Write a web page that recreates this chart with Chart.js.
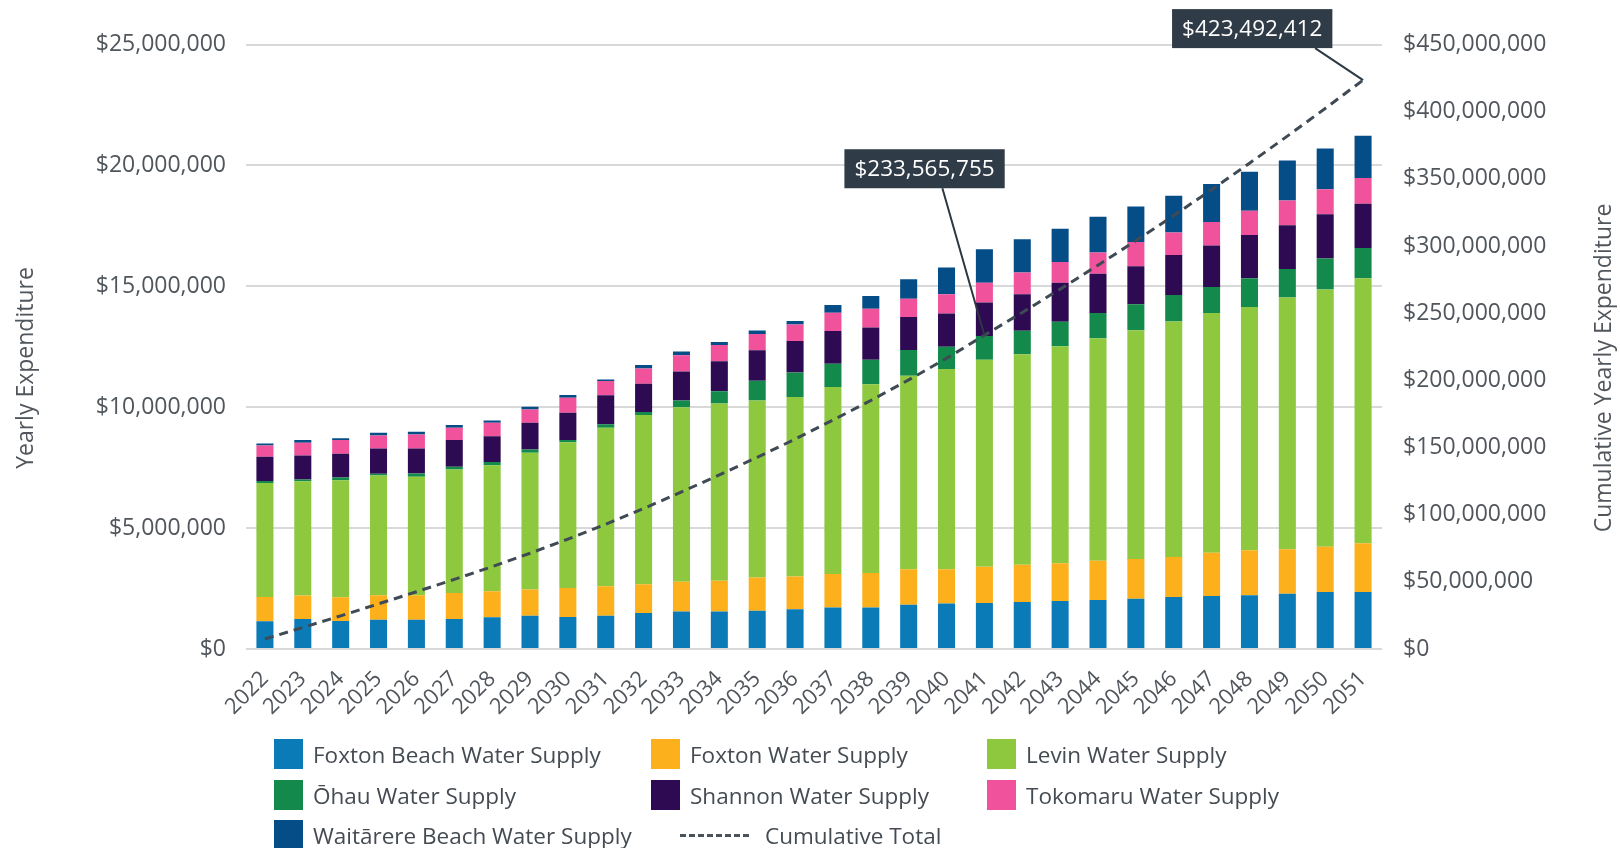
<!DOCTYPE html>
<html>
<head>
<meta charset="utf-8">
<script src="https://cdn.jsdelivr.net/npm/chart.js@4.4.1/dist/chart.umd.min.js"></script>
<style>
  html, body { margin: 0; padding: 0; background: #fff; }
  #wrap { position: relative; width: 1620px; height: 848px; font-family: 'Open Sans', sans-serif; }
  #chart { position: absolute; left: 0; top: 0; }
  .lg { position: absolute; display: flex; align-items: center; font-size: 22.5px; color: #454b52; white-space: nowrap; }
  .lg .sw { width: 29px; height: 30px; margin-right: 10px; }
  .lg .dash { width: 69px; height: 0; border-top: 3px dashed #4a525a; margin-right: 16px; margin-left: 29px; }
</style>
</head>
<body>
<div id="wrap">
  <canvas id="chart" width="1620" height="848"></canvas>
  <div id="legend"></div>
</div>
<script>
// categories
const years = ['2022','2023','2024','2025','2026','2027','2028','2029','2030','2031',
  '2032','2033','2034','2035','2036','2037','2038','2039','2040','2041',
  '2042','2043','2044','2045','2046','2047','2048','2049','2050','2051'];

// yearly expenditure per supply, $ millions
const foxtonBeach = [1.15,1.24,1.16,1.21,1.21,1.24,1.31,1.38,1.32,1.38,1.49,1.55,1.55,1.58,1.64,1.72,1.72,1.83,1.88,1.90,1.94,1.98,2.03,2.08,2.15,2.19,2.22,2.29,2.36,2.36];
const foxton      = [1.00,0.97,0.98,1.01,1.01,1.08,1.08,1.08,1.20,1.21,1.19,1.23,1.27,1.38,1.36,1.38,1.42,1.47,1.42,1.50,1.54,1.57,1.62,1.64,1.65,1.79,1.86,1.84,1.87,2.01];
const levin       = [4.72,4.73,4.84,4.96,4.90,5.10,5.21,5.66,6.03,6.56,7.00,7.22,7.33,7.32,7.42,7.74,7.81,8.00,8.28,8.56,8.71,8.97,9.20,9.46,9.74,9.92,10.06,10.41,10.64,10.96];
const ohau        = [0.08,0.07,0.11,0.07,0.14,0.12,0.13,0.13,0.09,0.14,0.12,0.28,0.51,0.81,1.01,0.96,1.01,1.07,0.92,0.98,0.97,1.01,1.05,1.08,1.10,1.07,1.19,1.18,1.28,1.25];
const shannon     = [1.00,0.99,0.98,1.04,1.03,1.10,1.07,1.11,1.13,1.20,1.17,1.20,1.24,1.27,1.31,1.35,1.34,1.36,1.38,1.39,1.51,1.62,1.62,1.57,1.65,1.72,1.79,1.80,1.83,1.83];
const tokomaru    = [0.47,0.53,0.57,0.54,0.58,0.51,0.56,0.55,0.62,0.59,0.63,0.67,0.67,0.67,0.68,0.76,0.77,0.75,0.79,0.82,0.90,0.85,0.88,1.00,0.93,0.97,1.00,1.03,1.03,1.07];
const waitarere   = [0.08,0.11,0.08,0.11,0.11,0.11,0.09,0.11,0.11,0.07,0.15,0.15,0.13,0.14,0.14,0.32,0.53,0.81,1.11,1.38,1.38,1.38,1.48,1.47,1.53,1.57,1.62,1.65,1.69,1.75];

// cumulative total, $
const cumulative = [7500000,16000000,24700000,33600000,42600000,51800000,61300000,71300000,81800000,92900000,
  104600000,116900000,129600000,142700000,156200000,170400000,185000000,200300000,216400000,233565755,
  250500000,267900000,285700000,304000000,322700000,341900000,361600000,381800000,402400000,423492412];

// tick values
const leftTicks = [0, 5000000, 10000000, 15000000, 20000000, 25000000];
const rightTicks = [0,50000000,100000000,150000000,200000000,250000000,300000000,350000000,400000000,450000000];

// points that get a callout
const calloutIdx = [19, 29];

const M = v => v.map(x => Math.round(x * 1000000));
const money = v => '$' + Number(v).toLocaleString('en-US');

const series = [
  { label: 'Foxton Beach Water Supply', data: M(foxtonBeach), color: '#0b7bb8' },
  { label: 'Foxton Water Supply', data: M(foxton), color: '#fbb01c' },
  { label: 'Levin Water Supply', data: M(levin), color: '#8dc83f' },
  { label: '\u014Chau Water Supply', data: M(ohau), color: '#138a4b' },
  { label: 'Shannon Water Supply', data: M(shannon), color: '#2e0a52' },
  { label: 'Tokomaru Water Supply', data: M(tokomaru), color: '#f0529c' },
  { label: 'Wait\u0101rere Beach Water Supply', data: M(waitarere), color: '#054d87' }
];

const datasets = series.map(s => ({
  type: 'bar',
  label: s.label,
  data: s.data,
  backgroundColor: s.color,
  borderWidth: 0,
  stack: 'yearly',
  yAxisID: 'y',
  order: 1,
  barPercentage: 0.45,
  categoryPercentage: 1
}));

datasets.push({
  type: 'line',
  label: 'Cumulative Total',
  data: cumulative,
  yAxisID: 'y1',
  borderColor: '#3f4a54',
  borderWidth: 3,
  borderDash: [9, 6],
  pointRadius: 0,
  fill: false,
  tension: 0,
  order: 0
});

const tickColor = '#50565c';

// axis titles, both read bottom-to-top
const axisTitles = {
  id: 'axisTitles',
  afterDraw(chart) {
    const ctx = chart.ctx;
    const titles = [
      { text: 'Yearly Expenditure', x: 26 },
      { text: 'Cumulative Yearly Expenditure', x: 1604 }
    ];
    ctx.save();
    ctx.font = '23px "Open Sans"';
    ctx.fillStyle = tickColor;
    ctx.textAlign = 'center';
    ctx.textBaseline = 'middle';
    titles.forEach(t => {
      ctx.save();
      ctx.translate(t.x, 368);
      ctx.rotate(-Math.PI / 2);
      ctx.fillText(t.text, 0, 0);
      ctx.restore();
    });
    ctx.restore();
  }
};

// callout boxes for the cumulative line
const calloutPlugin = {
  id: 'callouts',
  afterDatasetsDraw(chart) {
    const ctx = chart.ctx;
    const meta = chart.getDatasetMeta(datasets.length - 1);
    const offsets = [
      { dx: -140, dy: -147, lead: 98 },
      { dx: -191, dy: -32, lead: 143 }
    ];
    ctx.save();
    ctx.font = '22.5px "Open Sans"';
    calloutIdx.forEach((idx, k) => {
      const pt = meta.data[idx];
      const o = offsets[k];
      const text = money(cumulative[idx]);
      const w = ctx.measureText(text).width + 20;
      const h = 39;
      const bx = pt.x + o.dx;
      const by = pt.y + o.dy - h;
      ctx.strokeStyle = '#2c3843';
      ctx.lineWidth = 2;
      ctx.beginPath();
      ctx.moveTo(bx + o.lead, by + h);
      ctx.lineTo(pt.x, pt.y);
      ctx.stroke();
      ctx.fillStyle = '#2f3b46';
      ctx.fillRect(bx, by, w, h);
      ctx.fillStyle = '#ffffff';
      ctx.textAlign = 'center';
      ctx.textBaseline = 'middle';
      ctx.fillText(text, bx + w / 2, by + h / 2 + 1);
    });
    ctx.restore();
  }
};

const tickFont = { family: 'Open Sans', size: 23 };

new Chart(document.getElementById('chart'), {
  data: { labels: years, datasets: datasets },
  options: {
    responsive: false,
    animation: false,
    layout: { padding: { top: 44.5, left: 0, right: 0, bottom: 0 } },
    plugins: { legend: { display: false }, tooltip: { enabled: false } },
    scales: {
      x: {
        stacked: true,
        grid: { display: false },
        border: { display: false },
        ticks: { font: { family: 'Open Sans', size: 22 }, color: tickColor, minRotation: 45, maxRotation: 45, autoSkip: false, padding: 9 },
        afterFit: s => { s.height = 199; }
      },
      y: {
        position: 'left',
        stacked: true,
        min: 0,
        max: 25000000,
        afterBuildTicks: s => { s.ticks = leftTicks.map(v => ({ value: v })); },
        grid: { color: '#d9d9d9', lineWidth: 2, drawTicks: false },
        border: { display: false },
        ticks: { font: tickFont, color: tickColor, padding: 20, callback: v => money(v) },
        afterFit: s => { s.width = 246; }
      },
      y1: {
        position: 'right',
        stacked: false,
        min: 0,
        max: 450000000,
        afterBuildTicks: s => { s.ticks = rightTicks.map(v => ({ value: v })); },
        grid: { drawOnChartArea: false, drawTicks: false },
        border: { display: false },
        ticks: { font: tickFont, color: tickColor, padding: 21, callback: v => money(v) },
        afterFit: s => { s.width = 238; }
      }
    }
  },
  plugins: [calloutPlugin, axisTitles]
});

// legend laid out in the same three columns as the original
const legendEl = document.getElementById('legend');
const colX = [274, 651, 987];
const rowY = [754, 795, 835];
const items = series.map(s => ({ label: s.label, color: s.color }));
items.push({ label: 'Cumulative Total', dash: true });
items.forEach((it, i) => {
  const d = document.createElement('div');
  d.className = 'lg';
  d.style.left = colX[i % 3] + 'px';
  d.style.top = (rowY[Math.floor(i / 3)] - 16) + 'px';
  d.style.height = '32px';
  d.innerHTML = it.dash
    ? '<span class="dash"></span><span>' + it.label + '</span>'
    : '<span class="sw" style="background:' + it.color + '"></span><span>' + it.label + '</span>';
  legendEl.appendChild(d);
});
</script>
</body>
</html>
